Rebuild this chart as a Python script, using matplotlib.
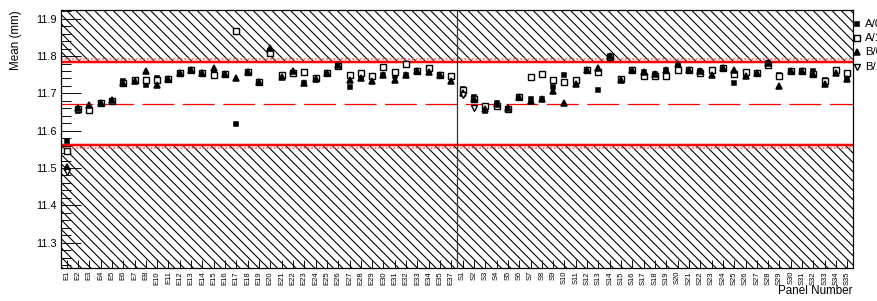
import numpy as np
import matplotlib
matplotlib.use("Agg")
import matplotlib.pyplot as plt
from matplotlib.ticker import MultipleLocator

plt.rcParams["font.family"] = ["Liberation Sans", "DejaVu Sans"]
plt.rcParams["hatch.linewidth"] = 0.7
plt.rcParams["lines.scale_dashes"] = False

DPI = 112

# panel names (E9 and E36 are absent in the source)
e_panels = [f"E{i}" for i in range(1, 38) if i not in (9, 36)]
s_panels = [f"S{i}" for i in range(1, 36)]
panels = e_panels + s_panels

a0 = [11.573, 11.653, 11.653, 11.673, 11.680, 11.733, 11.733, 11.722, 11.742, 11.738,
      11.755, 11.764, 11.755, 11.755, 11.753, 11.617, 11.757, 11.731, 11.814, 11.744,
      11.755, 11.729, 11.739, 11.754, 11.773, 11.717, 11.742, 11.747, 11.749, 11.747,
      11.748, 11.760, 11.760, 11.748, 11.745,
      11.713, 11.689, 11.653, 11.673, 11.659, 11.690, 11.686, 11.684, 11.717, 11.748,
      11.724, 11.763, 11.709, 11.800, 11.736, 11.763, 11.757, 11.753, 11.764, 11.773,
      11.763, 11.760, 11.764, 11.769, 11.729, 11.747, 11.755, 11.782, 11.748, 11.760,
      11.760, 11.760, 11.736, 11.754, 11.738]
a1 = [11.546, 11.657, 11.655, 11.673, 11.680, 11.729, 11.735, 11.736, 11.736, 11.738,
      11.755, 11.764, 11.755, 11.748, 11.753, 11.867, 11.757, 11.731, 11.809, 11.749,
      11.755, 11.758, 11.741, 11.754, 11.773, 11.749, 11.755, 11.747, 11.771, 11.757,
      11.778, 11.760, 11.767, 11.748, 11.747,
      11.710, 11.686, 11.665, 11.666, 11.659, 11.690, 11.744, 11.751, 11.736, 11.730,
      11.736, 11.763, 11.757, 11.797, 11.738, 11.763, 11.747, 11.747, 11.747, 11.762,
      11.763, 11.754, 11.762, 11.769, 11.751, 11.758, 11.755, 11.775, 11.747, 11.760,
      11.760, 11.751, 11.733, 11.763, 11.754]
b0 = [11.504, 11.662, 11.668, 11.675, 11.683, 11.729, 11.733, 11.760, 11.722, 11.738,
      11.755, 11.764, 11.755, 11.767, 11.753, 11.741, 11.757, 11.731, 11.822, 11.744,
      11.760, 11.729, 11.739, 11.754, 11.776, 11.735, 11.742, 11.733, 11.749, 11.736,
      11.748, 11.760, 11.758, 11.748, 11.733,
      11.702, 11.684, 11.659, 11.671, 11.662, 11.690, 11.680, 11.686, 11.706, 11.673,
      11.724, 11.763, 11.767, 11.800, 11.736, 11.763, 11.757, 11.751, 11.764, 11.780,
      11.763, 11.760, 11.748, 11.769, 11.764, 11.747, 11.755, 11.782, 11.720, 11.760,
      11.760, 11.751, 11.724, 11.754, 11.738]
# open down triangles are only visible for a few panels
b1 = {"E1": 11.488, "S1": 11.697, "S2": 11.662}

upper_limit = 11.784
lower_limit = 11.562
nominal = 11.672
upper_dotted = 11.793
lower_dotted = 11.553

series = [
    ("A/0", a0, dict(marker="s", ms=3.2, mfc="black", mec="black")),
    ("A/1", a1, dict(marker="s", ms=3.3, mfc="white", mec="black", mew=0.9)),
    ("B/0", b0, dict(marker="^", ms=4.1, mfc="black", mec="black")),
    ("B/1", [b1.get(p, np.nan) for p in panels],
     dict(marker="v", ms=4.4, mfc="white", mec="black", mew=0.9)),
]

fig = plt.figure(figsize=(877 / DPI, 301 / DPI), dpi=DPI)
ax = fig.add_axes([61 / 877, 33 / 301, 792 / 877, 258 / 301])

x = np.arange(len(panels))
ax.set_xlim(-0.5, len(panels) - 0.5)
ax.set_ylim(11.232, 11.9235)

# out-of-tolerance regions
ax.axhspan(upper_limit, 11.9235, facecolor="none", edgecolor="black", hatch="\\\\\\\\",
           lw=0, zorder=1)
ax.axhspan(11.232, lower_limit, facecolor="none", edgecolor="black", hatch="\\\\\\\\",
           lw=0, zorder=1)
ax.axhline(upper_dotted, color="#ff6060", lw=1.0, ls=(0, (1.2, 1.2)), zorder=2)
ax.axhline(lower_dotted, color="#ff6060", lw=1.0, ls=(0, (1.2, 1.2)), zorder=2)
ax.axhline(upper_limit, color="red", lw=1.6, zorder=2)
ax.axhline(lower_limit, color="red", lw=1.6, zorder=2)
ax.axhline(nominal, color="red", lw=0.8, dashes=(20.5, 5.5), zorder=2)
ax.axvline(len(e_panels) - 0.5, color="#333333", lw=0.8, zorder=2)

for i, (label, vals, style) in enumerate(series):
    ax.plot(x, vals, ls="none", zorder=3 + i, **style)
    ypix = 301 - (24 + 14.2 * i)
    fig.lines.append(plt.Line2D([857 / 877], [ypix / 301], transform=fig.transFigure,
                                ls="none", **style))
    fig.text(865 / 877, ypix / 301, label, fontsize=7.3, va="center", ha="left")

ax.set_xticks(x)
ax.set_xticklabels(panels, rotation=90, fontsize=4.9)
ax.tick_params(axis="x", direction="in", length=5, width=0.6, pad=2, top=False)
ax.yaxis.set_major_locator(MultipleLocator(0.1))
ax.yaxis.set_minor_locator(MultipleLocator(0.02))
ax.tick_params(axis="y", which="major", direction="in", length=12.8, width=0.6,
               labelsize=7.0, pad=2.5, right=False)
ax.tick_params(axis="y", which="minor", direction="in", length=6.4, width=0.6, right=False)
for s in ax.spines.values():
    s.set_linewidth(0.8)

fig.text(16 / 877, 1 - 10 / 301, "Mean (mm)", rotation=90, fontsize=7.5,
         ha="center", va="top")
fig.text(853 / 877, 1 - 291 / 301, "Panel Number", fontsize=7.5, ha="right", va="center")

fig.savefig("out.png", dpi=DPI)
